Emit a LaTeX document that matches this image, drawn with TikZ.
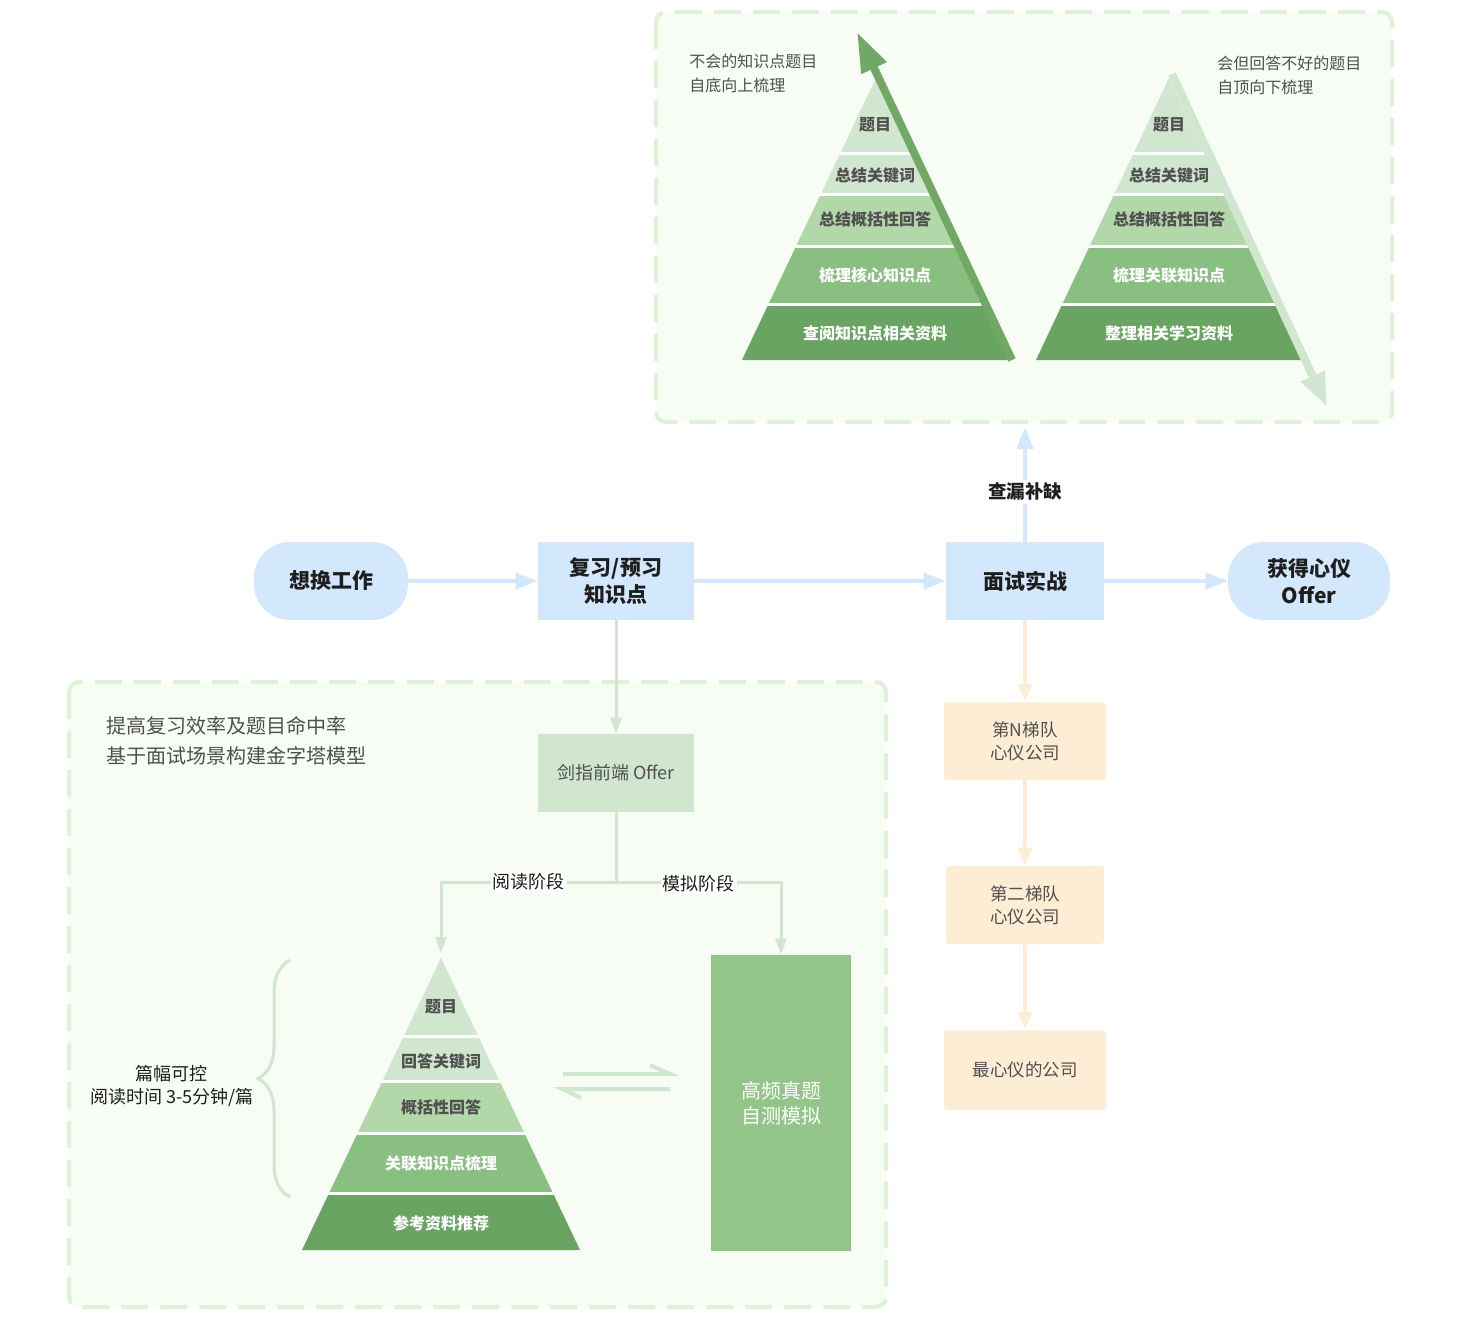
\documentclass[tikz,border=0pt]{standalone}
\usepackage{fontspec}
\setmainfont{Noto Sans CJK SC}
\usetikzlibrary{arrows.meta,decorations.pathreplacing,calc}
\definecolor{bluef}{HTML}{D3E8FC}
\definecolor{lgreen}{HTML}{D0E6CF}
\definecolor{gbox}{HTML}{93C48A}
\definecolor{pA}{HTML}{D0E6CF}
\definecolor{pB}{HTML}{B2D7A9}
\definecolor{pC}{HTML}{8ABF82}
\definecolor{pD}{HTML}{6AA462}
\definecolor{darrow}{HTML}{72A866}
\definecolor{orangef}{HTML}{FDEDD4}
\definecolor{dashc}{HTML}{DCF3D6}
\definecolor{boxbg}{HTML}{F7FCF5}
\definecolor{txt}{HTML}{1E1E1E}
\definecolor{gtxt}{HTML}{505050}
\newcommand\fsz[2]{\fontsize{#1}{#2}\selectfont}
\begin{document}
\begin{tikzpicture}[x=0.5pt,y=-0.5pt,
  dbox/.style={draw=dashc,line width=2pt,dash pattern=on 13.5pt off 6pt,rounded corners=5pt,fill=boxbg},
  mainnode/.style={font=\bfseries\fsz{10.5}{13.5},text=txt,align=center,inner sep=0pt,fill=bluef,minimum height=39pt},
  stadium/.style={mainnode,rounded corners=18pt},
  orangebox/.style={fill=orangef,rounded corners=1.5pt,font=\fsz{8.75}{11.5},text=gtxt,align=center,inner sep=0pt,minimum height=39pt},
  barrow/.style={draw=bluef,line width=2pt,-{Triangle[length=11pt,width=8pt]}},
  garrow/.style={draw=lgreen,line width=1.5pt,-{Triangle[length=8pt,width=5.5pt]}},
  oarrow/.style={draw=orangef,line width=2pt,-{Triangle[length=9pt,width=7pt]}},
  lbl/.style={fill=white,inner sep=1pt,font=\fsz{9}{11},text=txt},
  pdark/.style={font=\bfseries\fsz{8}{10},text=gtxt,inner sep=0pt},
  plight/.style={font=\bfseries\fsz{8}{10},text=white,inner sep=0pt},
  note/.style={font=\fsz{8}{12},text=gtxt,align=left,inner sep=0pt,anchor=west},
  sep/.style={draw=white,line width=1.5pt}
]
\useasboundingbox (0,0) rectangle (1464,1322);
\fill[white] (0,0) rectangle (1464,1322);

% dashed regions
\draw[dbox] (656,12) rectangle (1392,422);
\draw[dbox] (69,682) rectangle (886,1307);

% ---------- top-left pyramid ----------
\begin{scope}
\clip (875,80) -- (1008,360) -- (742,360) -- cycle;
\fill[pA] (700,60) rectangle (1050,194.5);
\fill[pB] (700,194.5) rectangle (1050,246.5);
\fill[pC] (700,246.5) rectangle (1050,304.5);
\fill[pD] (700,304.5) rectangle (1050,370);
\draw[sep] (700,153.5) -- (1050,153.5);
\draw[sep] (700,194.5) -- (1050,194.5);
\draw[sep] (700,246.5) -- (1050,246.5);
\draw[sep] (700,304.5) -- (1050,304.5);
\end{scope}
\node[pdark] (tl1) at (875,125) {题目};
\node[pdark] (tl2) at (875,175) {总结关键词};
\node[pdark] (tl3) at (875,219) {总结概括性回答};
\node[plight] (tl4) at (875,275) {梳理核心知识点};
\node[plight] (tl5) at (875,333) {查阅知识点相关资料};
\coordinate (ua1) at (1012,360);
\coordinate (ua2) at (857,32);
\draw[draw=darrow,line width=4pt,-{Triangle[length=20pt,width=13pt]}] (ua1) -- (ua2);

% ---------- top-right pyramid ----------
\begin{scope}
\clip (1169,78) -- (1301,360) -- (1036,360) -- cycle;
\fill[pA] (1000,60) rectangle (1350,194.5);
\fill[pB] (1000,194.5) rectangle (1350,246.5);
\fill[pC] (1000,246.5) rectangle (1350,304.5);
\fill[pD] (1000,304.5) rectangle (1350,370);
\draw[sep] (1000,153.5) -- (1350,153.5);
\draw[sep] (1000,194.5) -- (1350,194.5);
\draw[sep] (1000,246.5) -- (1350,246.5);
\draw[sep] (1000,304.5) -- (1350,304.5);
\end{scope}
\node[pdark] (tr1) at (1169,125) {题目};
\node[pdark] (tr2) at (1169,175) {总结关键词};
\node[pdark] (tr3) at (1169,219) {总结概括性回答};
\node[plight] (tr4) at (1169,275) {梳理关联知识点};
\node[plight] (tr5) at (1169,333) {整理相关学习资料};
\coordinate (da1) at (1172,74);
\coordinate (da2) at (1327,407);
\draw[draw=lgreen,line width=4pt,-{Triangle[length=17pt,width=12pt]}] (da1) -- (da2);

\node[note] (n1note) at (689,73) {不会的知识点题目\\自底向上梳理};
\node[note] (n2note) at (1217,75) {会但回答不好的题目\\自顶向下梳理};

% ---------- main flow ----------
\node[stadium,minimum width=77pt] (want) at (331,581) {想换工作};
\node[mainnode,minimum width=78pt] (review) at (616,581) {复习/预习\\知识点};
\node[mainnode,minimum width=79pt] (interview) at (1025,581) {面试实战};
\node[stadium,minimum width=81pt] (offer) at (1309,581) {获得心仪\\Offer};
\coordinate (topgap) at (1025,427);

\draw[barrow] (want) -- (review);
\draw[barrow] (review) -- (interview);
\draw[barrow] (interview) -- (offer);
\draw[barrow] (interview.north) -- node[fill=white,inner sep=1.5pt,font=\bfseries\fsz{9.25}{11},text=txt,pos=0.435] (check) {查漏补缺} (topgap);

% ---------- orange column ----------
\node[orangebox,minimum width=81pt] (o1) at (1025,741) {第N梯队\\心仪公司};
\node[orangebox,minimum width=79pt] (o2) at (1025,905) {第二梯队\\心仪公司};
\node[orangebox,minimum width=81pt,minimum height=40pt] (o3) at (1025,1070) {最心仪的公司};
\draw[oarrow] (interview.south) -- (o1.north);
\draw[oarrow] (o1.south) -- (o2.north);
\draw[oarrow] (o2.south) -- (o3.north);

% ---------- bottom region ----------
\node[note,font=\fsz{10}{15}] (n3note) at (106,741) {提高复习效率及题目命中率\\基于面试场景构建金字塔模型};
\node[fill=lgreen,minimum width=78pt,minimum height=39pt,inner sep=0pt,font=\fsz{9}{11},text=gtxt] (jz) at (616,773) {剑指前端 Offer};
\draw[garrow] (review.south) -- (jz.north);

\node[fill=gbox,minimum width=70pt,minimum height=148pt,inner sep=0pt,font=\fsz{10}{12.5},text=white,align=center] (sim) at (781,1103) {高频真题\\自测模拟};

% bottom pyramid
\begin{scope}
\clip (441,958) -- (580,1250) -- (302,1250) -- cycle;
\fill[pA] (280,940) rectangle (600,1081.5);
\fill[pB] (280,1081.5) rectangle (600,1133.5);
\fill[pC] (280,1133.5) rectangle (600,1193.5);
\fill[pD] (280,1193.5) rectangle (600,1260);
\draw[sep] (280,1036.5) -- (600,1036.5);
\draw[sep] (280,1081.5) -- (600,1081.5);
\draw[sep] (280,1133.5) -- (600,1133.5);
\draw[sep] (280,1193.5) -- (600,1193.5);
\end{scope}
\node[pdark] (b1) at (441,1007) {题目};
\node[pdark] (b2) at (441,1061) {回答关键词};
\node[pdark] (b3) at (441,1107) {概括性回答};
\node[plight] (b4) at (441,1163) {关联知识点梳理};
\node[plight] (b5) at (441,1223) {参考资料推荐};
\coordinate (papex) at (441,953);

\coordinate (split) at (616,882);
\draw[draw=lgreen,line width=1.5pt] (jz.south) -- (split);
\draw[garrow] (split) -| node[lbl,pos=0.25] (read) {阅读阶段} (papex);
\draw[garrow] (split) -| node[lbl,pos=0.25,yshift=-1pt] (mock) {模拟阶段} (sim.north);

% harpoons
\coordinate (h1a) at (563,1074);
\coordinate (h1b) at (670,1074);
\coordinate (h1c) at (650,1065);
\coordinate (h2a) at (670,1089);
\coordinate (h2b) at (562,1089);
\coordinate (h2c) at (581,1098);
\draw[draw=lgreen,line width=2pt] (h1a) -- (h1b) -- (h1c);
\draw[draw=lgreen,line width=2pt] (h2a) -- (h2b) -- (h2c);

% brace
\coordinate (br1) at (290,1197);
\coordinate (br2) at (290,960);
\draw[draw=lgreen,line width=1.5pt,decorate,decoration={brace,amplitude=16pt}] (br1) -- (br2);
\node[font=\fsz{9}{11.5},text=txt,align=center,inner sep=0pt] (len) at (172,1086) {篇幅可控\\阅读时间 3-5分钟/篇};
\end{tikzpicture}
\end{document}
